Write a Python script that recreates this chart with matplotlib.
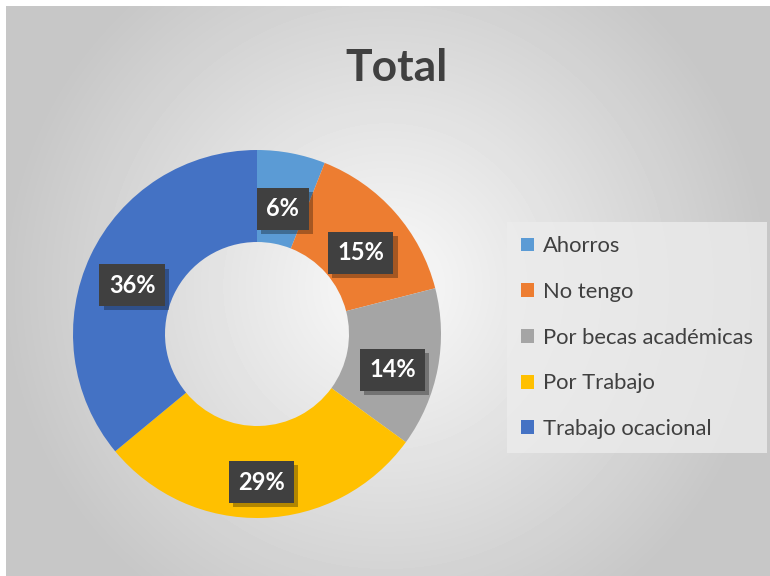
import numpy as np
import matplotlib.pyplot as plt
import matplotlib.patheffects as pe

categorias = ['Ahorros', 'No tengo', 'Por becas académicas', 'Por Trabajo', 'Trabajo ocacional']
porcentajes = [6, 15, 14, 29, 36]
etiquetas = ['6%', '15%', '14%', '29%', '36%']
colores = ['#5b9bd5', '#ed7d31', '#a5a5a5', '#ffc000', '#4472c4']

plt.rcParams['font.family'] = ['Lato', 'DejaVu Sans']

fig = plt.figure(figsize=(7.7, 5.76), dpi=100)
fig.patch.set_facecolor('white')

# fondo con degradado radial
bg = fig.add_axes([6 / 770, 0, 764 / 770, 570 / 576])
yy, xx = np.mgrid[0:570, 0:764]
d = np.sqrt(((xx - 380) / 420) ** 2 + ((yy - 280) / 420) ** 2)
g = np.clip(0.98 - 0.22 * d, 0.78, 1)
bg.imshow(g, cmap='gray', vmin=0, vmax=1, aspect='auto')
bg.set_axis_off()

# donut
ax = fig.add_axes([(257 - 184) / 770, 1 - (334 + 184) / 576, 368 / 770, 368 / 576])
wedges, _ = ax.pie(porcentajes, colors=colores, startangle=90, counterclock=False,
                   radius=1, wedgeprops=dict(width=0.5, edgecolor='none'))
ax.set_xlim(-1, 1)
ax.set_ylim(-1, 1)
ax.set_aspect('equal')
ax.set_axis_off()

total = sum(porcentajes)
ang0 = 90
for v, lab in zip(porcentajes, etiquetas):
    mid = np.deg2rad(ang0 - v / total * 360 / 2)
    ang0 -= v / total * 360
    r = 0.75
    t = ax.text(r * np.cos(mid), r * np.sin(mid) - 0.055, lab, ha='center', va='center',
                color='white', fontsize=17, fontweight='bold',
                bbox=dict(boxstyle='square,pad=0.4', facecolor='#404040', edgecolor='none'))
    t.get_bbox_patch().set_path_effects([
        pe.SimplePatchShadow(offset=(3, -3), shadow_rgbFace='black', alpha=0.3),
        pe.Normal()])

fig.text(397 / 770, 1 - 68 / 576, 'Total', ha='center', va='center',
         fontsize=32, fontweight='bold', color='#404040')

leg = fig.legend(wedges, categorias, loc='upper left',
                 bbox_to_anchor=(507 / 770, 1 - 222 / 576), frameon=True,
                 fontsize=15.8, handlelength=0.6, handleheight=0.6, handletextpad=0.4,
                 labelspacing=1.17, borderpad=0.65, borderaxespad=0, fancybox=False)
leg.get_frame().set_facecolor('#ececec')
leg.get_frame().set_edgecolor('none')
for txt in leg.get_texts():
    txt.set_color('#404040')

fig.savefig('out.png', dpi=100)
